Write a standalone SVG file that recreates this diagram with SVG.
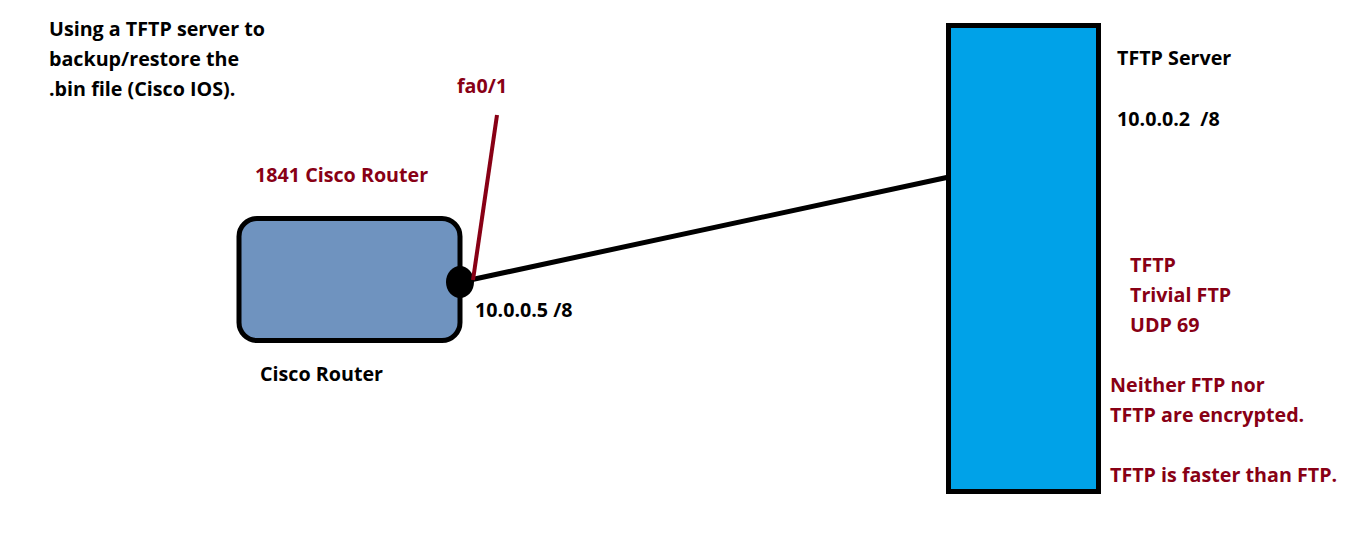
<svg xmlns="http://www.w3.org/2000/svg" width="1352" height="556" viewBox="0 0 1352 556">
<style>
text{font-family:"Open Sans","Noto Sans","Liberation Sans",sans-serif;font-weight:bold;font-size:19.7px;fill:#000}
.red{fill:#880015}
</style>
<rect width="1352" height="556" fill="#fff"/>
<g id="connectors">
<line x1="470" y1="280" x2="949" y2="177" stroke="#000" stroke-width="5"/>
</g>
<g id="router">
<rect x="239" y="218.5" width="221" height="122" rx="18" fill="#6f93bf" stroke="#000" stroke-width="5"/>
<ellipse cx="460" cy="282" rx="14" ry="16" fill="#000"/>
<line x1="473" y1="280" x2="497" y2="115" stroke="#880015" stroke-width="4"/>
<text x="255" y="182" class="red">1841 Cisco Router</text>
<text x="260" y="381">Cisco Router</text>
<text x="457" y="93" class="red">fa0/1</text>
<text x="475" y="317">10.0.0.5 /8</text>
</g>
<g id="server">
<rect x="948.5" y="25.5" width="150" height="466" fill="#00a2e8" stroke="#000" stroke-width="5"/>
<text x="1117" y="65">TFTP Server</text>
<text x="1117" y="126" xml:space="preserve">10.0.0.2  /8</text>
<text x="1130" y="272" class="red">TFTP</text>
<text x="1130" y="302" class="red">Trivial FTP</text>
<text x="1130" y="332" class="red">UDP 69</text>
<text x="1110" y="392" class="red">Neither FTP nor</text>
<text x="1110" y="422" class="red">TFTP are encrypted.</text>
<text x="1110" y="482" class="red">TFTP is faster than FTP.</text>
</g>
<g id="title">
<text x="49" y="36">Using a TFTP server to</text>
<text x="49" y="66">backup/restore the</text>
<text x="49" y="96">.bin file (Cisco IOS).</text>
</g>
</svg>
